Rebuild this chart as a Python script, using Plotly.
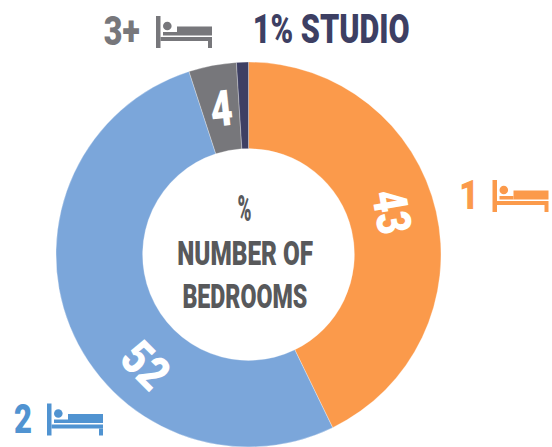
import json
import plotly.graph_objects as go

categories = ["1 bedroom", "2 bedrooms", "3+ bedrooms", "Studio"]
values = [42.8, 52.2, 4.0, 1.0]
colors = ["#FB9A4B", "#7BA6DA", "#77777B", "#3D3F63"]
FONT = "Roboto"
W, H = 552, 447
INK = "#58595B"
BLUE = "#5093D1"

fig = go.Figure(go.Pie(
    labels=categories, values=values, sort=False, direction="clockwise", rotation=0,
    hole=0.55, textinfo="none", showlegend=False,
    marker=dict(colors=colors, line=dict(color="rgba(255,255,255,0.6)", width=0.5)),
    domain=dict(x=[56/W, 441/W], y=[0, 385/H]),
))

widths = {}
def txt(t, x, y, size, color, width, angle=0):
    t = str(t)
    widths[t] = width
    fig.add_annotation(text=t, x=x/W, y=1-y/H, xref="paper", yref="paper",
                       xanchor="center", yanchor="middle", showarrow=False, textangle=angle,
                       font=dict(family=FONT, size=size, color=color, weight=900))

def bed(x, y, color):
    def X(v): return (x + v)/W
    def Y(v): return 1-(y + v)/H
    parts = [(0,0,4.5,32),(4.5,21,56,25),(52,25,56,32),(21,10.5,56,19.5),(7,16,21,19.5)]
    for a,b,c,d in parts:
        fig.add_shape(type="rect", xref="paper", yref="paper", x0=X(a), x1=X(c), y0=Y(b), y1=Y(d),
                      fillcolor=color, line_width=0, layer="above")
    fig.add_shape(type="circle", xref="paper", yref="paper", x0=X(7), x1=X(15.6), y0=Y(5.7), y1=Y(14.3),
                  fillcolor=color, line_width=0, layer="above")

# slice values
txt(round(values[0]), 392, 212, 48, "white", 44, 80)
txt(round(values[1]), 146, 365, 48, "white", 46, 45)
txt(round(values[2]), 221.5, 109, 50, "white", 22, -6)

# centre
txt("%", 245, 209, 36, INK, 14)
txt("NUMBER OF", 245, 253, 33, INK, 136)
txt("BEDROOMS", 245, 296, 33, INK, 125)

# outer labels
txt("3+", 122, 31, 41, "#77777B", 36)
bed(156, 16, "#77777B")
txt("1% STUDIO", 331, 29, 41, "#3D3F63", 157)
txt("1", 468.5, 195, 41, "#FB9A4B", 20)
bed(492.5, 180, "#FB9A4B")
txt("2", 23, 419, 41, BLUE, 18)
bed(47, 403.5, BLUE)

fig.update_layout(width=W, height=H, margin=dict(l=0, r=0, t=0, b=0),
                  paper_bgcolor="white", plot_bgcolor="white")

post = "document.body.style.margin='0';var w=" + json.dumps(widths) + """;
document.querySelectorAll('.annotation-text').forEach(function(t){
  var k=t.textContent; if(w[k]){t.setAttribute('textLength',w[k]);t.setAttribute('lengthAdjust','spacingAndGlyphs');}
});"""
fig.write_html("out.html", config={"displayModeBar": False}, post_script=post)
